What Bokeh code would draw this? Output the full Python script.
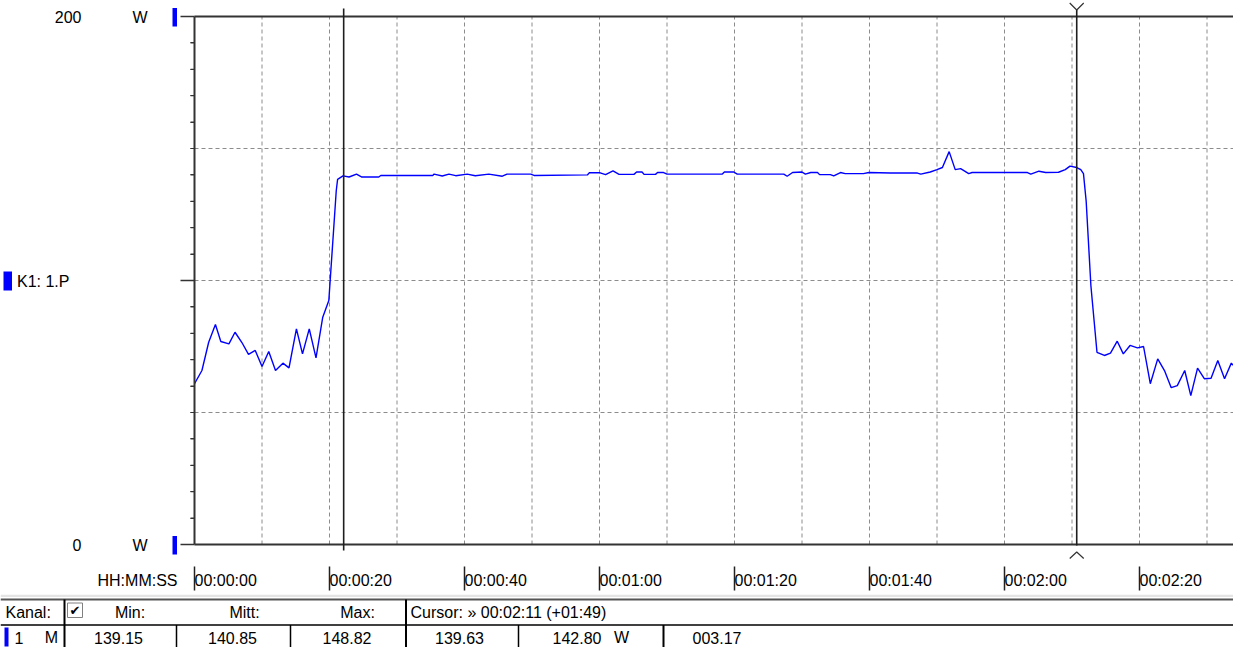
from bokeh.plotting import figure
from bokeh.layouts import column
from bokeh.models import Range1d, FixedTicker
from bokeh.core.properties import value
from bokeh.embed import file_html
from bokeh.resources import INLINE

# ---------------- data ----------------
time_s = [0.0, 1.1, 2.1, 3.1, 3.9, 5.1, 6.0, 7.0, 8.0, 9.0, 10.0, 11.0, 12.0, 13.1, 14.0,
          15.1, 16.0, 17.0, 18.0, 19.0, 19.9, 21.0, 21.2, 22.0,
          22.9, 24.0, 24.8, 27.3, 27.6, 35.3, 35.5, 36.7, 37.7, 38.7, 40.4, 41.6, 43.6,
          45.6, 46.3, 49.8, 50.3, 58.2, 58.5, 60.1, 60.9, 62.0, 62.9, 65.1, 65.5, 66.3,
          66.6, 68.3, 68.6, 69.5, 70.0, 78.2, 78.5, 79.9, 80.4, 87.3, 87.8, 88.6, 90.0,
          90.5, 91.3, 92.3, 92.6, 94.2, 94.7, 95.7, 96.4, 99.1, 99.9, 103.1, 107.1, 107.6,
          109.0, 110.0, 110.8, 111.8, 112.7, 113.5, 114.7, 115.2, 123.4, 123.9, 125.1,
          126.1, 128.0, 129.0, 129.7, 130.7, 131.3, 131.7,
          132.1, 132.8, 133.7,
          134.8, 135.7, 136.7, 137.6, 138.6, 139.7, 140.6, 141.6, 142.7, 143.7, 144.7,
          145.6, 146.7, 147.6, 148.6, 149.6, 150.6, 151.6, 152.6, 153.6, 154.6, 155.6, 156.3]
power_w = [60.9, 65.9, 76.6, 83.3, 76.9, 76.0, 80.4, 76.6, 72.0, 73.5, 67.4, 73.1, 65.9, 68.7, 66.9,
           81.7, 72.2, 81.7, 70.7, 86.1, 92.4, 134.0, 138.3, 139.63,
           139.2, 140.3, 139.2, 139.2, 139.8, 139.8, 140.3, 139.6, 140.3, 139.7, 140.3, 139.7, 140.3,
           139.5, 140.3, 140.3, 139.8, 140.0, 140.8, 140.8, 140.1, 141.5, 140.2, 140.2, 141.1, 141.1,
           140.2, 140.2, 140.9, 140.9, 140.3, 140.3, 141.1, 141.1, 140.3, 140.3, 139.5, 140.9, 141.1,
           140.3, 140.9, 140.9, 140.1, 140.1, 139.6, 140.9, 140.5, 140.5, 140.9, 140.7, 140.7, 140.3,
           141.1, 142.0, 142.8, 148.82, 142.0, 142.4, 140.5, 140.9, 140.9, 140.3, 141.4,
           140.9, 141.0, 142.0, 143.3, 142.80, 142.0, 140.5,
           130.0, 98.0, 72.8,
           71.6, 72.5, 77.0, 72.2, 75.4, 74.5, 75.0, 60.9, 70.3, 65.9, 59.4,
           60.2, 65.9, 56.4, 66.8, 62.8, 63.0, 69.7, 62.8, 68.7, 65.9, 61.9, 64.0]

x_ticks = [0, 20, 40, 60, 80, 100, 120, 140]
x_tick_labels = ["00:00:00", "00:00:20", "00:00:40", "00:01:00",
                 "00:01:20", "00:01:40", "00:02:00", "00:02:20"]
x_grid = [10, 20, 30, 40, 50, 60, 70, 80, 90, 100, 110, 120, 130, 140, 150]
y_major = [0, 100, 200]
y_major_labels = ["0", "", "200"]
y_minor = [10, 20, 30, 40, 50, 60, 70, 80, 90, 110, 120, 130, 140, 150, 160, 170, 180, 190]
y_grid = [50, 100, 150]
y_min, y_max = 0, 200
y_unit = "W"
channel_label = "K1: 1.P"
time_format_label = "HH:MM:SS"
cursor_times = [22.1, 130.7]

table_header = ["Kanal:", "Min:", "Mitt:", "Max:", "Cursor: \u00bb 00:02:11 (+01:49)"]
channel_row = ["1", "M"]
stats_values = ["139.15", "140.85", "148.82"]
cursor_values = ["139.63", "142.80", "003.17"]

# ---------------- layout constants (pixels) ----------------
FONT = "Liberation Sans"
FS = "16px"
BLUE = "#0000ff"
DARK = "#333333"
GRID = "#8c8c8c"

W = 1233
CH = 594                 # chart figure height
TH = 647 - CH            # table figure height
X0_PX = 194              # pixel column of t = 0
Y0_PX = 544              # pixel row of 0 W
PX_PER_S = 6.75
PX_PER_W = 2.64


def tx(px):   # pixel column -> time (for decorations outside the plot area)
    return (px - X0_PX) / PX_PER_S


def wy(py):   # pixel row -> watts
    return (Y0_PX - py) / PX_PER_W


p = figure(width=W, height=CH, x_range=Range1d(tx(0), tx(W)), y_range=Range1d(wy(CH), wy(0)),
           output_backend="svg", toolbar_location=None,
           min_border=0, min_border_left=0, min_border_right=0, min_border_top=0,
           min_border_bottom=0, outline_line_color=None,
           background_fill_color="white", border_fill_color="white")
p.grid.visible = False

# y axis, fixed at t = 0
ya = p.yaxis[0]
ya.fixed_location = 0
ya.ticker = FixedTicker(ticks=y_major, minor_ticks=y_minor)
ya.bounds = (y_min, y_max)
ya.major_label_overrides = {t: l for t, l in zip(y_major, y_major_labels)}
ya.axis_line_color = DARK
ya.axis_line_width = 2
ya.major_tick_line_color = DARK
ya.major_tick_line_width = 1.5
ya.minor_tick_line_color = DARK
ya.minor_tick_line_width = 1.2
ya.major_tick_in = 0
ya.major_tick_out = 14
ya.minor_tick_in = 0
ya.minor_tick_out = 4
ya.major_label_standoff = 99
ya.major_label_text_font = FONT
ya.major_label_text_font_size = FS
ya.major_label_text_color = "#000000"

# x axis, fixed 16 px below 0 W
xa = p.xaxis[0]
xa.fixed_location = wy(560)
xa.ticker = FixedTicker(ticks=x_ticks, minor_ticks=[])
xa.major_label_overrides = {t: l for t, l in zip(x_ticks, x_tick_labels)}
xa.axis_line_color = None
xa.major_tick_line_color = "#222222"
xa.major_tick_line_width = 1.5
xa.major_tick_in = -6
xa.major_tick_out = 30
xa.minor_tick_in = 0
xa.minor_tick_out = 0
xa.major_label_orientation = -1e-9
xa.major_label_standoff = -10
xa.major_label_text_font = FONT
xa.major_label_text_font_size = FS
xa.major_label_text_color = "#000000"

x_end = tx(W)

# grid lines (dashed), limited to the plot area
p.segment(x0=x_grid, y0=[y_min] * len(x_grid), x1=x_grid, y1=[y_max] * len(x_grid),
          line_color=GRID, line_dash="4 3", line_width=1)
p.segment(x0=[0] * len(y_grid), y0=y_grid, x1=[x_end] * len(y_grid), y1=y_grid,
          line_color=GRID, line_dash="4 3", line_width=1)

# minor ticks on the value axis (drawn explicitly, 4 px long)
p.segment(x0=[tx(X0_PX - 4)] * len(y_minor), y0=y_minor, x1=[0] * len(y_minor), y1=y_minor,
          line_color=DARK, line_width=1.2)

# curve
p.line(time_s, power_w, line_color=BLUE, line_width=1.4)

# frame lines at 0 W and 200 W
p.segment(x0=[0, 0], y0=[y_min, y_max], x1=[x_end, x_end], y1=[y_min, y_max],
          line_color=DARK, line_width=2)

# cursors
c0, c1 = cursor_times
p.segment(x0=[c0, c1], y0=[wy(550), wy(545)], x1=[c0, c1], y1=[wy(8), wy(9.5)],
          line_color="#1e1e1e", line_width=1.6)
arm = 7 / PX_PER_S
p.multi_line(xs=[[c1 - arm, c1, c1 + arm], [c1 - arm, c1, c1 + arm]],
             ys=[[wy(2.5), wy(9.5), wy(2.5)], [wy(558), wy(551.5), wy(558)]],
             line_color=DARK, line_width=1.2)

# left side: unit labels, channel markers, channel name
p.text(x=[tx(139.5)] * 2, y=[wy(16.7), wy(545)], text=[y_unit, y_unit],
       text_font=value(FONT), text_font_size=value(FS), text_color="#000000",
       text_align="center", text_baseline="middle")
p.quad(left=[tx(172), tx(172)], right=[tx(176.5), tx(176.5)],
       top=[wy(7.5), wy(535.5)], bottom=[wy(26), wy(554)], fill_color=BLUE, line_color=None)
p.quad(left=[tx(3)], right=[tx(11.5)], top=[wy(271)], bottom=[wy(290)],
       fill_color=BLUE, line_color=None)
p.text(x=[tx(16.5)], y=[wy(280.5)], text=[channel_label],
       text_font=value(FONT), text_font_size=value(FS), text_color="#000000",
       text_align="left", text_baseline="middle")
p.text(x=[tx(177)], y=[wy(580)], text=[time_format_label],
       text_font=value(FONT), text_font_size=value(FS), text_color="#000000",
       text_align="right", text_baseline="middle")

# ---------------- table below ----------------
t = figure(width=W, height=TH, x_range=Range1d(0, W), y_range=Range1d(CH + TH, CH),
           output_backend="svg", toolbar_location=None, x_axis_type=None, y_axis_type=None,
           min_border=0, min_border_left=0, min_border_right=0, min_border_top=0,
           min_border_bottom=0, outline_line_color=None,
           background_fill_color="white", border_fill_color="white")
t.grid.visible = False

TOP = CH
t.quad(left=[0], right=[W], top=[TOP], bottom=[TOP + 2.5], fill_color="#e4e4e4", line_color=None)
t.segment(x0=[0], y0=[TOP + 5], x1=[W], y1=[TOP + 5], line_color="#555555", line_width=2)
SEP = TOP + 30.5
t.segment(x0=[0], y0=[SEP], x1=[W], y1=[SEP], line_color="#000000", line_width=1.5)
t.segment(x0=[64, 405.5], y0=[TOP + 5, TOP + 5], x1=[64, 405.5], y1=[CH + TH, CH + TH],
          line_color="#000000", line_width=2)
t.segment(x0=[176, 290, 518], y0=[SEP] * 3, x1=[176, 290, 518], y1=[CH + TH] * 3,
          line_color="#000000", line_width=1.5)
t.segment(x0=[663], y0=[SEP], x1=[663], y1=[CH + TH], line_color="#000000", line_width=2)

# checkbox
t.quad(left=[67], right=[82], top=[TOP + 8.5], bottom=[TOP + 23], fill_color="white",
       line_color="#808080", line_width=1)
t.text(x=[74.5], y=[TOP + 15.5], text=["\u2714"], text_font=value("DejaVu Sans"),
       text_font_size=value("13px"), text_align="center", text_baseline="middle",
       text_color="#000000")

# channel colour bar
t.quad(left=[4], right=[8], top=[SEP + 2.5], bottom=[CH + TH - 1], fill_color=BLUE, line_color=None)

ROW1 = TOP + 17.5
ROW2 = SEP + 12.5


def ttext(xs, ys, texts, align):
    t.text(x=xs, y=ys, text=texts, text_font=value(FONT), text_font_size=value(FS),
           text_align=align, text_baseline="middle", text_color="#000000")


ttext([5, 410], [ROW1, ROW1], [table_header[0], table_header[4]], "left")
ttext([129.5, 244, 357], [ROW1] * 3, table_header[1:4], "center")
ttext([14], [ROW2], [channel_row[0]], "left")
ttext([51, 118, 232, 346.5, 459], [ROW2] * 5,
      [channel_row[1]] + stats_values + [cursor_values[0]], "center")
ttext([552, 692], [ROW2, ROW2], [cursor_values[1], cursor_values[2]], "left")
ttext([621], [ROW2], [y_unit], "center")

layout = column(p, t, spacing=0)
open("out.html", "w").write(file_html(layout, INLINE))
